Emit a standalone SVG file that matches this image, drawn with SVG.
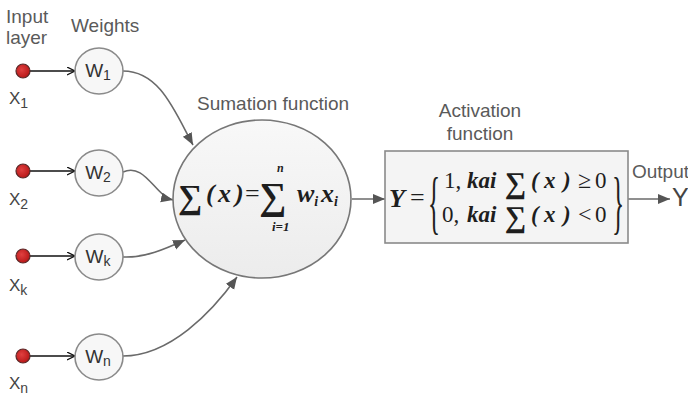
<svg xmlns="http://www.w3.org/2000/svg" width="688" height="396" viewBox="0 0 688 396">
<style>
.lbl{font-family:"Liberation Sans",Arial,sans-serif;font-size:19px;fill:#5a5a5a}
.xl{font-family:"Liberation Sans",Arial,sans-serif;font-size:17px;fill:#444}
.sub{font-size:14px}
.wt{font-family:"Liberation Sans",Arial,sans-serif;font-size:19px;fill:#333;text-anchor:middle}
.wsub{font-size:14px}
.dot{fill:url(#rg);stroke:#5a2a2a;stroke-width:1.2}
.wc{fill:#f7f7f7;stroke:#8a8a8a;stroke-width:1.6}
.m{font-family:"Liberation Serif","Times New Roman",serif;fill:#1e1e1e}
.bi{font-weight:bold;font-style:italic}
.sg{font-weight:bold}
.in{stroke:#111;stroke-width:1.6;fill:none}
.cv{stroke:#6a6a6a;stroke-width:1.6;fill:none}
</style>
<defs>
<radialGradient id="rg" cx="0.4" cy="0.4" r="0.6">
<stop offset="0" stop-color="#e04040"/>
<stop offset="1" stop-color="#b81818"/>
</radialGradient>
<linearGradient id="eg" x1="0" y1="0" x2="0" y2="1">
<stop offset="0" stop-color="#f8f8f8"/>
<stop offset="1" stop-color="#ececec"/>
</linearGradient>
<marker id="open" markerWidth="10" markerHeight="10" refX="8" refY="4" orient="auto" markerUnits="userSpaceOnUse">
<path d="M0,0 L8,4 L0,8" fill="none" stroke="#111" stroke-width="1.3"/>
</marker>
<marker id="fill" markerWidth="14" markerHeight="12" refX="12" refY="5" orient="auto" markerUnits="userSpaceOnUse">
<path d="M0,0 L12,5 L0,10 Z" fill="#555"/>
</marker>
</defs>

<rect width="688" height="396" fill="#ffffff"/>

<!-- labels -->
<text class="lbl" x="6" y="23">Input</text>
<text class="lbl" x="6" y="44">layer</text>
<text class="lbl" x="71" y="32">Weights</text>
<text class="lbl" x="197" y="110">Sumation function</text>
<text class="lbl" x="480" y="117" text-anchor="middle">Activation</text>
<text class="lbl" x="480" y="140" text-anchor="middle">function</text>
<text class="lbl" x="632" y="178">Output</text>
<text x="672" y="206" style="font-family:'Liberation Sans',Arial,sans-serif;font-size:25px;fill:#444">Y</text>

<!-- connectors -->
<g id="connectors">
<line class="in" x1="23" y1="71" x2="75" y2="71" marker-end="url(#open)"/>
<line class="in" x1="23" y1="171" x2="75" y2="171" marker-end="url(#open)"/>
<line class="in" x1="23" y1="256" x2="75" y2="256" marker-end="url(#open)"/>
<line class="in" x1="23" y1="356" x2="75" y2="356" marker-end="url(#open)"/>
<path class="cv" d="M123,71 C160,71 175,112 193,145" marker-end="url(#fill)"/>
<path class="cv" d="M123,172 C145,162 155,196 173,200" marker-end="url(#fill)"/>
<path class="cv" d="M123,257 C145,258 165,249 185,240" marker-end="url(#fill)"/>
<path class="cv" d="M123,356 C170,356 212,312 237,277" marker-end="url(#fill)"/>
<line class="cv" x1="352" y1="199" x2="385" y2="199" marker-end="url(#fill)"/>
<line class="cv" x1="628" y1="199" x2="670" y2="199" marker-end="url(#fill)"/>
</g>

<!-- inputs -->
<g id="x1"><circle class="dot" cx="23" cy="71" r="7"/><text class="xl" x="9" y="104">X<tspan class="sub" dy="4">1</tspan></text></g>
<g id="x2"><circle class="dot" cx="23" cy="171" r="7"/><text class="xl" x="9" y="205">X<tspan class="sub" dy="4">2</tspan></text></g>
<g id="xk"><circle class="dot" cx="23" cy="256" r="7"/><text class="xl" x="9" y="291">X<tspan class="sub" dy="4">k</tspan></text></g>
<g id="xn"><circle class="dot" cx="23" cy="356" r="7"/><text class="xl" x="9" y="389">X<tspan class="sub" dy="4">n</tspan></text></g>

<!-- weights -->
<g id="w1"><ellipse class="wc" cx="99" cy="71" rx="24" ry="23"/><text class="wt" x="98" y="77">W<tspan class="wsub" dy="3">1</tspan></text></g>
<g id="w2"><ellipse class="wc" cx="99" cy="173" rx="24" ry="23"/><text class="wt" x="98" y="179">W<tspan class="wsub" dy="3">2</tspan></text></g>
<g id="wk"><ellipse class="wc" cx="99" cy="257" rx="24" ry="23"/><text class="wt" x="98" y="263">W<tspan class="wsub" dy="3">k</tspan></text></g>
<g id="wn"><ellipse class="wc" cx="99" cy="357" rx="24" ry="23"/><text class="wt" x="98" y="363">W<tspan class="wsub" dy="3">n</tspan></text></g>

<!-- summation -->
<g id="sum">
<ellipse cx="262" cy="199" rx="89" ry="79" fill="url(#eg)" stroke="#777" stroke-width="1.6"/>
<text class="m sg" x="178" y="208" font-size="34">∑</text>
<text class="m bi" x="206" y="202" font-size="26">(</text>
<text class="m bi" x="218" y="202" font-size="26">x</text>
<text class="m bi" x="235" y="202" font-size="26">)</text>
<text class="m" x="245" y="202" font-size="26">=</text>
<text class="m sg" x="259" y="209" font-size="38">∑</text>
<text class="m bi" x="277" y="172" font-size="12">n</text>
<text class="m bi" x="272" y="231" font-size="13">i=1</text>
<text class="m bi" x="297" y="202" font-size="26">w<tspan font-size="14" dy="4">i</tspan></text>
<text class="m bi" x="321" y="202" font-size="26">x<tspan font-size="14" dy="4">i</tspan></text>
</g>

<!-- activation -->
<g id="act">
<rect x="385" y="151" width="243" height="92" fill="#f4f4f4" stroke="#8a8a8a" stroke-width="1.6"/>
<text class="m bi" x="389" y="207" font-size="26">Y</text>
<text class="m" x="410" y="206" font-size="26">=</text>
<text class="m" font-size="70" transform="translate(428,226) scale(0.36,1)">{</text>
<text class="m" x="444" y="188" font-size="23">1,</text>
<text class="m bi" x="467" y="188" font-size="23">kai</text>
<text class="m sg" x="505" y="193" font-size="30">∑</text>
<text class="m bi" x="531" y="188" font-size="23">(</text>
<text class="m bi" x="544" y="188" font-size="23">x</text>
<text class="m bi" x="563" y="188" font-size="23">)</text>
<text class="m" x="578" y="188" font-size="24">≥</text>
<text class="m" x="595" y="188" font-size="23">0</text>
<text class="m" x="442" y="222" font-size="23">0,</text>
<text class="m bi" x="467" y="222" font-size="23">kai</text>
<text class="m sg" x="505" y="227" font-size="30">∑</text>
<text class="m bi" x="531" y="222" font-size="23">(</text>
<text class="m bi" x="544" y="222" font-size="23">x</text>
<text class="m bi" x="563" y="222" font-size="23">)</text>
<text class="m" x="578" y="222" font-size="24">&lt;</text>
<text class="m" x="595" y="222" font-size="23">0</text>
<text class="m" font-size="70" transform="translate(612,226) scale(0.36,1)">}</text>
</g>
</svg>
